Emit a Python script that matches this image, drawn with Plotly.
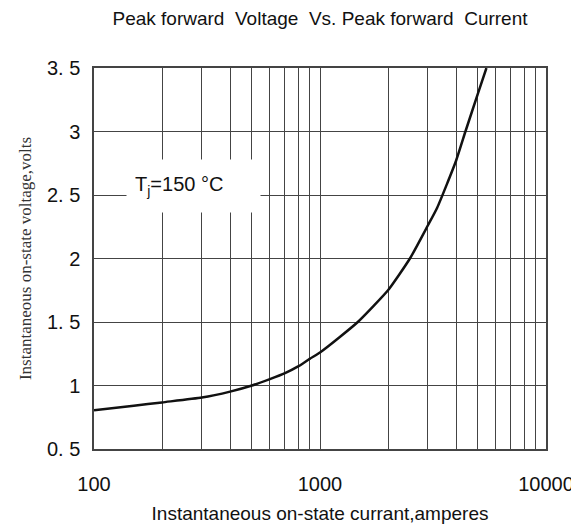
import plotly.graph_objects as go

# values
current = [100, 150, 200, 300, 400, 500, 600, 700, 800, 900, 1000, 1220, 1470,
           2000, 2500, 3000, 3300, 4000, 4400, 5000, 5450]
voltage = [0.805, 0.84, 0.867, 0.905, 0.952, 1.0, 1.05, 1.097, 1.15, 1.21, 1.26,
           1.38, 1.5, 1.75, 2.0, 2.26, 2.4, 2.77, 3.0, 3.3, 3.5]

y_ticks = [0.5, 1, 1.5, 2, 2.5, 3, 3.5]
y_tick_text = ["0. 5", "1", "1. 5", "2", "2. 5", "3", "3. 5"]
x_ticks = [100, 1000, 10000]
x_tick_text = ["100", "1000", "10000"]

sans = "Liberation Sans, Arial, sans-serif"
serif = "Liberation Serif, Times New Roman, serif"

# the page body has an 8px margin, so the figure is 8px smaller and shifted
W, H = 571, 523

fig = go.Figure(
    go.Scatter(x=current, y=voltage, mode="lines",
               line=dict(color="#111", width=2.5, shape="spline", smoothing=0.5),
               showlegend=False, hoverinfo="skip")
)

fig.update_layout(
    width=W, height=H,
    margin=dict(l=86, r=33, t=60, b=82),
    paper_bgcolor="white", plot_bgcolor="white",
    title=dict(text="Peak forward  Voltage  Vs. Peak forward  Current",
               x=0.5, xref="paper", xanchor="center",
               y=1 - 10 / H, yref="container", yanchor="middle",
               font=dict(family=sans, size=19, color="#111")),
    annotations=[dict(
        x=2.44, y=2.57, xref="x", yref="y",
        text="T<sub>j</sub>=150 °C", showarrow=False, align="left",
        font=dict(family=sans, size=20, color="#111"),
        bgcolor="white", borderpad=8, width=117, height=36,
    )],
)

fig.update_xaxes(
    type="log", range=[2, 4], automargin=False,
    tickvals=x_ticks, ticktext=x_tick_text,
    tickfont=dict(family=sans, size=20, color="#111"),
    ticks="", ticklabelstandoff=16,
    showgrid=True, gridcolor="#444", gridwidth=1,
    minor=dict(dtick="D1", showgrid=True, gridcolor="#444", gridwidth=1, ticks=""),
    showline=True, linecolor="#444", linewidth=1.5, mirror=True,
    zeroline=False,
    title=dict(text="Instantaneous on-state currant,amperes",
               font=dict(family=sans, size=19, color="#111"), standoff=13),
)

fig.update_yaxes(
    range=[0.5, 3.5], automargin=False,
    tickvals=y_ticks, ticktext=y_tick_text,
    tickfont=dict(family=sans, size=20, color="#111"),
    ticks="", ticklabelstandoff=8,
    showgrid=True, gridcolor="#444", gridwidth=1,
    showline=True, linecolor="#444", linewidth=1.5, mirror=True,
    zeroline=False,
    title=dict(text="Instantaneous on-state voltage,volts",
               font=dict(family=serif, size=17, color="#333"), standoff=11),
)

fig.write_html("out.html")
